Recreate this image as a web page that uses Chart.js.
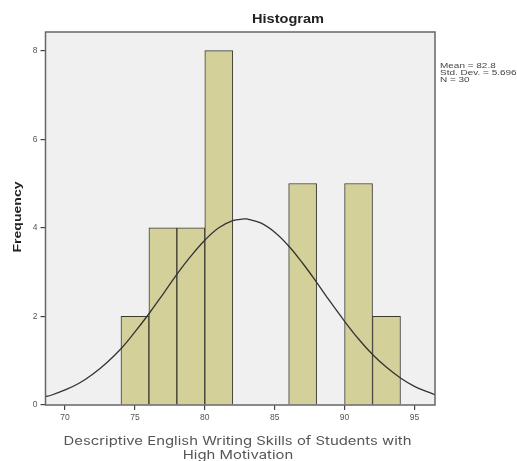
<!DOCTYPE html>
<html><head><meta charset="utf-8">
<script src="https://cdn.jsdelivr.net/npm/chart.js@4/dist/chart.umd.min.js"></script>
<style>html,body{margin:0;padding:0;background:#fff}#wrap{width:517px;height:461px}</style>
</head><body><div id="wrap"><canvas id="c" width="517" height="461"></canvas></div>
<script>
// Histogram bins (center of 2-wide bins) and frequencies
const binCenters = [75, 77, 79, 81, 87, 91, 93];
const frequencies = [2, 4, 4, 8, 5, 5, 2];
// Fitted normal curve
const curveX = [68.6,69,70,71,72,73,74,75,76,77,78,79,80,81,82,82.8,83,84,85,86,87,88,89,90,91,92,93,94,95,96,96.5];
const curveY = [0.19,0.22,0.34,0.49,0.70,0.96,1.27,1.65,2.06,2.50,2.95,3.36,3.72,4.00,4.16,4.20,4.20,4.11,3.90,3.59,3.20,2.77,2.32,1.89,1.49,1.14,0.85,0.61,0.42,0.29,0.23];
const xTicks = [70, 75, 80, 85, 90, 95];
const yTicks = [0, 2, 4, 6, 8];
const statsLines = ['Mean = 82.8', 'Std. Dev. = 5.696', 'N = 30'];
const chartTitle = 'Histogram';
const xTitle = ['Descriptive English Writing Skills of Students with', 'High Motivation'];
const yTitle = 'Frequency';

// draw text stretched along its own direction (reference uses a wide face)
function wideText(ctx, text, x, y, sx, align, rot) {
  ctx.save();
  ctx.translate(x, y);
  if (rot) ctx.rotate(rot);
  ctx.scale(sx, 1);
  ctx.textAlign = align;
  ctx.textBaseline = 'middle';
  ctx.fillText(text, 0, 0);
  ctx.restore();
}

const bgPlugin = {
  id: 'bg',
  beforeDraw(chart) {
    const {ctx, chartArea: a} = chart;
    ctx.save();
    ctx.fillStyle = '#f0f0f0';
    ctx.fillRect(a.left, a.top, a.right - a.left, a.bottom - a.top);
    ctx.restore();
  },
  afterDraw(chart) {
    const {ctx, chartArea: a} = chart;
    ctx.save();
    ctx.strokeStyle = '#666';
    ctx.lineWidth = 1.5;
    ctx.strokeRect(a.left, a.top, a.right - a.left, a.bottom - a.top);
    // main title
    ctx.fillStyle = '#222';
    ctx.font = 'bold 12.5px "Liberation Sans", Arial, sans-serif';
    wideText(ctx, chartTitle, 288, 20, 72 / ctx.measureText(chartTitle).width, 'center');
    // y title
    ctx.font = 'bold 10.5px "Liberation Sans", Arial, sans-serif';
    wideText(ctx, yTitle, 18.5, 217, 71 / ctx.measureText(yTitle).width, 'center', -Math.PI / 2);
    // x title
    ctx.fillStyle = '#555';
    ctx.font = '11.5px Inter, "Liberation Sans", Arial, sans-serif';
    const sx = 348 / ctx.measureText(xTitle[0]).width;
    wideText(ctx, xTitle[0], 237.5, 441.5, sx, 'center');
    wideText(ctx, xTitle[1], 238, 456, sx, 'center');
    // stats
    ctx.fillStyle = '#444';
    ctx.font = '7.5px "Liberation Sans", Arial, sans-serif';
    statsLines.forEach((s, i) => wideText(ctx, s, 440, 65.5 + i * 7, 1.33, 'left'));
    ctx.restore();
  }
};

new Chart(document.getElementById('c'), {
  data: {
    datasets: [
      {
        type: 'line',
        data: curveX.map((x, i) => ({x, y: curveY[i]})),
        borderColor: '#333',
        borderWidth: 1.3,
        pointRadius: 0,
        tension: 0.4,
        fill: false,
        order: 0
      },
      {
        type: 'bar',
        data: binCenters.map((x, i) => ({x, y: frequencies[i]})),
        backgroundColor: '#d4d09a',
        borderColor: '#3a3a30',
        borderWidth: 1,
        barPercentage: 1,
        categoryPercentage: 1,
        order: 1
      }
    ]
  },
  options: {
    responsive: false,
    animation: false,
    layout: {padding: {top: 32, right: 82, left: 0, bottom: 0}},
    plugins: {legend: {display: false}, tooltip: {enabled: false}},
    scales: {
      x: {
        type: 'linear',
        min: 68.6,
        max: 96.47,
        offset: false,
        afterBuildTicks: ax => { ax.ticks = xTicks.map(v => ({value: v})); },
        afterFit: ax => { ax.height = 56; },
        grid: {offset: false, drawOnChartArea: false, drawTicks: true, tickLength: 5, color: '#444', lineWidth: 1.2},
        border: {display: false},
        ticks: {color: '#555', font: {size: 8.5, family: '"Liberation Sans", Arial'}, padding: 3, maxRotation: 0},
        title: {display: false}
      },
      y: {
        min: 0,
        max: 8.42,
        afterBuildTicks: ax => { ax.ticks = yTicks.map(v => ({value: v})); },
        afterFit: ax => { ax.width = 45.5; },
        grid: {offset: false, drawOnChartArea: false, drawTicks: true, tickLength: 5, color: '#444', lineWidth: 1.2},
        border: {display: false},
        ticks: {color: '#555', font: {size: 8.5, family: '"Liberation Sans", Arial'}, padding: 3},
        title: {display: false}
      }
    }
  },
  plugins: [bgPlugin]
});
</script>
</body></html>
